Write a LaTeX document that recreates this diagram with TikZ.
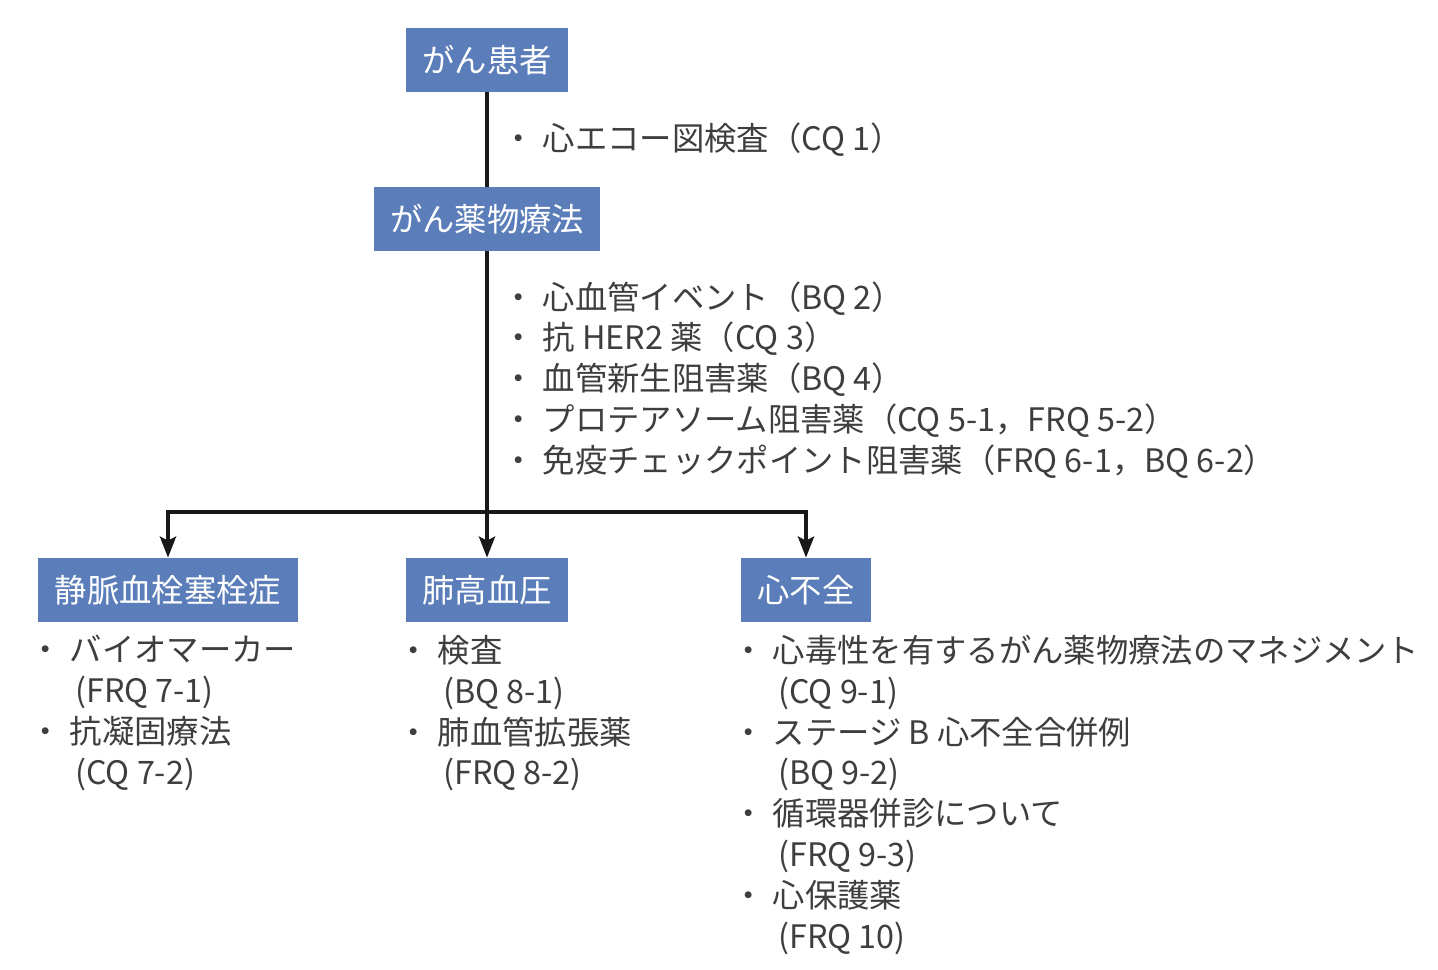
\documentclass[tikz,border=0pt]{standalone}
\usepackage{fontspec}
\setmainfont{Noto Sans CJK JP}
\usetikzlibrary{arrows.meta}
\definecolor{boxblue}{RGB}{91,126,186}
\definecolor{txtgray}{RGB}{62,62,62}
\def\itm{\makebox[1.25em][l]{・}}
\def\ind{\hspace*{1.42em}}

\begin{document}
\begin{tikzpicture}[x=0.02cm, y=-0.02cm,
		box/.style={fill=boxblue, text=white, font=\fontsize{18.4pt}{23.2pt}\selectfont, inner xsep=0.33cm, inner ysep=0pt, minimum height=1.28cm},
		items/.style={anchor=north west, align=left, inner sep=0pt, text=txtgray, font=\fontsize{18.4pt}{23.2pt}\selectfont},
		link/.style={line width=0.08cm, draw=black!90},
		arr/.style={link, -{Stealth[length=0.42cm, width=0.32cm, inset=0.08cm]}}]
		%%%%% START %%%%%
		
		\fill[white] (0, 0) rectangle (1438, 970);
		\useasboundingbox (0, 0) rectangle (1438, 970);
		
		\node[box] (patient) at (487, 60) {がん患者};
		\node[box] (chemo) at (487, 219) {がん薬物療法};
		
		\node[box] (vte) at (168, 590) {静脈血栓塞栓症};
		\node[box] (ph) at (487, 590) {肺高血圧};
		\node[box] (hf) at (806, 590) {心不全};
		
		\coordinate (split) at (487, 512);
		
		\draw[link] (patient) -- (chemo);
		\draw[arr] (chemo) -- (ph);
		\draw[arr] (split) -| (vte.north);
		\draw[arr] (split) -| (hf.north);
		
		\node[items] (echo) at (502, 122) {\itm 心エコー図検査（CQ\ 1）};
		\node[items] (drugs) at (502, 281) {\itm 心血管イベント（BQ\ 2）\\
			\itm 抗 HER2 薬（CQ\ 3）\\
			\itm 血管新生阻害薬（BQ\ 4）\\
			\itm プロテアソーム阻害薬（CQ\ 5-1，FRQ\ 5-2）\\
			\itm 免疫チェックポイント阻害薬（FRQ\ 6-1，BQ\ 6-2）};
		
		\node[items] (vteitems) at (29, 635) {\itm バイオマーカー\\
			\ind (FRQ\ 7-1)\\
			\itm 抗凝固療法\\
			\ind (CQ\ 7-2)};
		\node[items] (phitems) at (397, 635) {\itm 検査\\
			\ind (BQ\ 8-1)\\
			\itm 肺血管拡張薬\\
			\ind (FRQ\ 8-2)};
		\node[items] (hfitems) at (732, 635) {\itm 心毒性を有するがん薬物療法のマネジメント\\
			\ind (CQ\ 9-1)\\
			\itm ステージ B 心不全合併例\\
			\ind (BQ\ 9-2)\\
			\itm 循環器併診について\\
			\ind (FRQ\ 9-3)\\
			\itm 心保護薬\\
			\ind (FRQ\ 10)};
		
		%%%%% END %%%%%
\end{tikzpicture}
\end{document}
